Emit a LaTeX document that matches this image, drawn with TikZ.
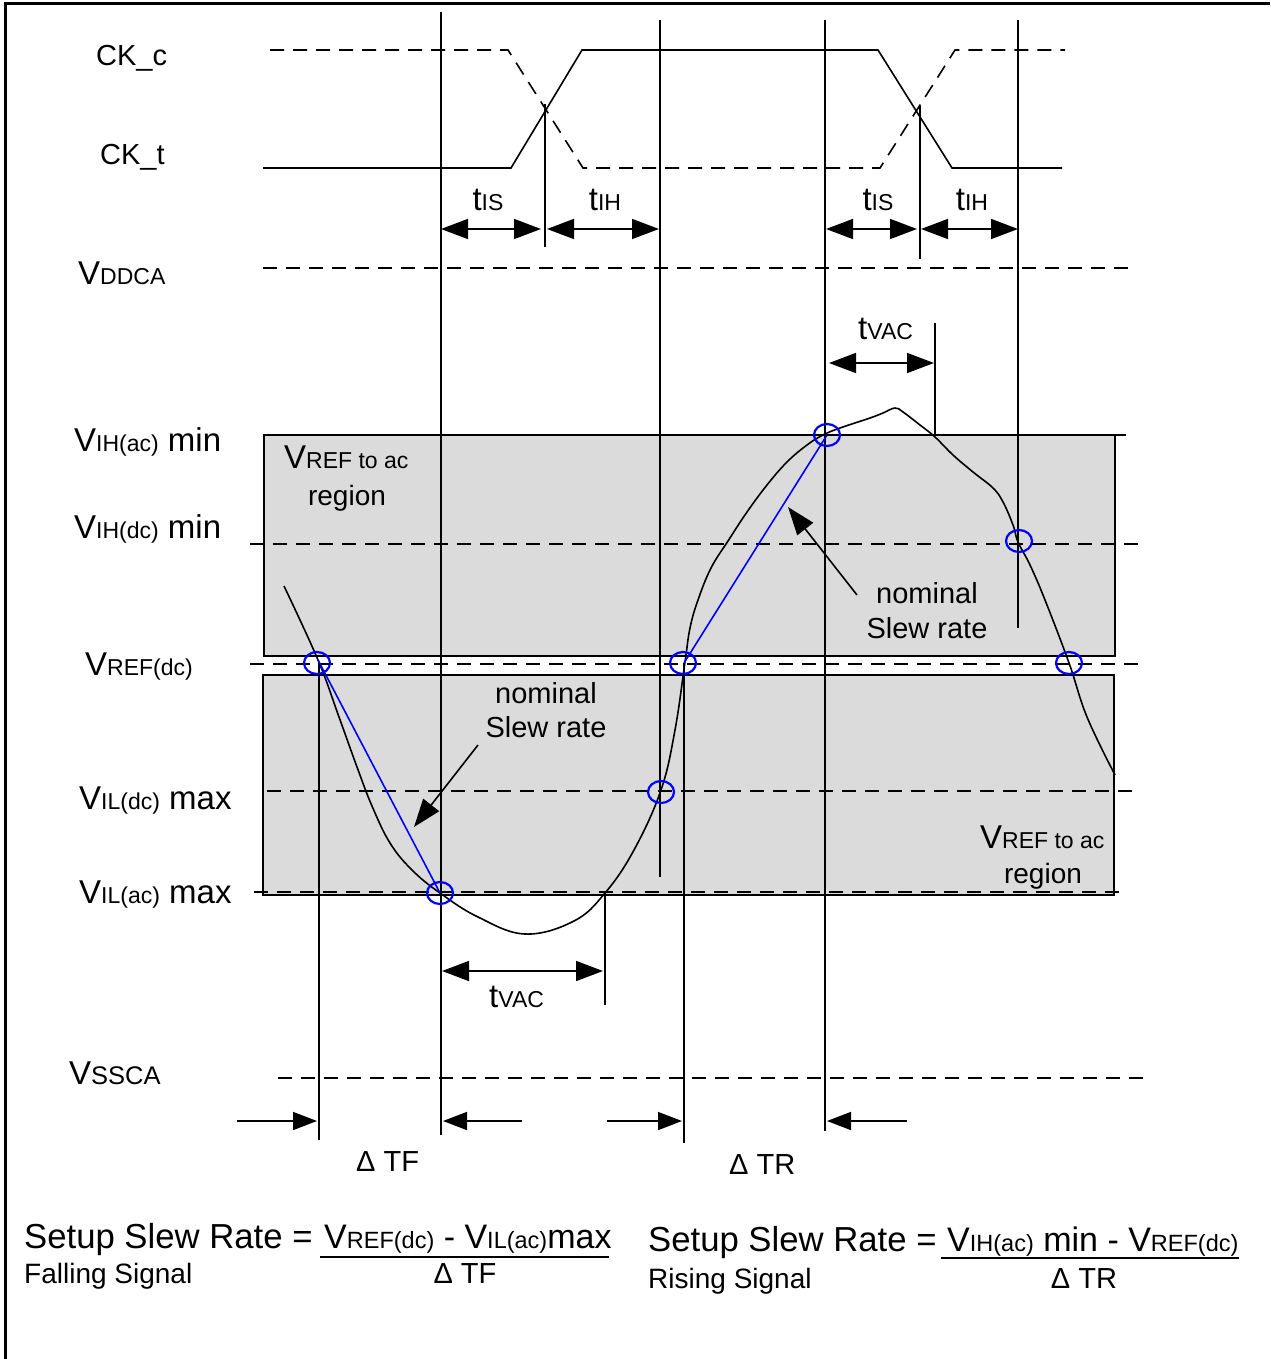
\documentclass[tikz,border=0pt]{standalone}
\usepackage{fontspec}
\setmainfont{Liberation Sans}
\usetikzlibrary{arrows.meta}
\newcommand\sbt[1]{{\fontsize{23}{24}\selectfont #1}}
\newcommand\sbf[1]{{\fontsize{23.5}{24}\selectfont #1}}
\newcommand\bigf{\fontsize{33}{36}\selectfont}
\newcommand\frmf{\fontsize{34}{36}\selectfont}
\newcommand\setf{\fontsize{34.7}{36}\selectfont}
\newcommand\midf{\fontsize{29}{32}\selectfont}
\newcommand\regf{\fontsize{28}{30}\selectfont}
\begin{document}
\begin{tikzpicture}[x=1pt,y=-1pt,
  solidln/.style={line width=1.6pt},
  dsh/.style={line width=1.6pt, dash pattern=on 14pt off 9pt},
  regionbox/.style={fill=black!14, draw=black, line width=1.6pt},
  dimarr/.style={line width=1.6pt, {Triangle[length=27pt,width=20pt]}-{Triangle[length=27pt,width=20pt]}},
  onearr/.style={line width=1.6pt, -{Triangle[length=24pt,width=18pt]}},
  noarr/.style={line width=1.6pt, -{Triangle[length=28pt,width=20pt]}},
  bluel/.style={blue, line width=1.6pt},
  bluec/.style={blue, line width=2.2pt},
  txt/.style={inner sep=0pt, anchor=base west},
  ctxt/.style={inner sep=0pt, anchor=base}
]
\useasboundingbox (0,0) rectangle (1270,1359);
% frame
\draw[line width=3pt] (5,1359) -- (5,4) -- (1270,4);

% region boxes
\draw[regionbox] (264,435) rectangle (1115,656);
\draw[regionbox] (263,675) rectangle (1114,895);

% level lines
\draw[dsh] (263,268) -- (1132,268);
\draw[dsh] (264,435) -- (1126,435);
\draw[dsh] (250,544) -- (1140,544);
\draw[dsh] (250,664) -- (1140,664);
\draw[dsh] (267,791) -- (1141,791);
\draw[dsh] (254,892) -- (1126,892);
\draw[dsh] (278,1078) -- (1146,1078);

% clock waveforms
\draw[dsh] (270,50) -- (508,50) -- (583,168) -- (880,168) -- (955,50) -- (1065,50);
\draw[solidln] (263,168) -- (511,168) -- (582,50) -- (878,50) -- (952,168) -- (1062,168);

% vertical lines
\coordinate (v1t) at (441,12);   \coordinate (v1b) at (441,1135);
\coordinate (v2t) at (660,20);   \coordinate (v2b) at (660,877);
\coordinate (v3t) at (825,20);   \coordinate (v3b) at (825,1131);
\coordinate (v4t) at (1018,20);  \coordinate (v4b) at (1018,628);
\coordinate (v5t) at (319,663);  \coordinate (v5b) at (319,1140);
\coordinate (v6t) at (684,663);  \coordinate (v6b) at (684,1143);
\coordinate (c1t) at (545,104);  \coordinate (c1b) at (545,247);
\coordinate (c2t) at (920,106);  \coordinate (c2b) at (920,259);
\coordinate (t1t) at (605,893);  \coordinate (t1b) at (605,1005);
\coordinate (t2t) at (935,323);  \coordinate (t2b) at (935,435);
\foreach \a in {v1,v2,v3,v4,v5,v6,c1,c2,t1,t2}
  \draw[solidln] (\a t) -- (\a b);

% signal curve
\draw[line width=1.6pt] plot[smooth, tension=0.65] coordinates {
 (284,586) (318,660) (339,717) (357,767) (372,806) (390,843) (412,870)
 (440,893) (478,917) (525,934) (574,921) (605,893) (634,850) (661,790)
 (675,730) (685,662) (690,628) (698,600) (711,568) (728,541) (747,512)
 (767,485) (787,462) (807,445) (823,435) (840,428) (870,418) (883,413)
 (895,408) (903,412) (920,425) (935,437) (953,455) (973,472) (993,488)
 (1003,502) (1013,525) (1018,542) (1030,565) (1045,600) (1069,663)
 (1087,717) (1115,775)};

% nominal slew lines
\draw[bluel] (318,660) -- (440,893);
\draw[bluel] (684,663) -- (827,435);

% circles
\foreach \p/\n in {{(317,663)}/ca,{(440,893)}/cb,{(661,792)}/cc,{(683,663)}/cd,{(827,435)}/ce,{(1019,541)}/cf,{(1069,663)}/cg}
  \draw[bluec] \p coordinate (\n) ellipse [x radius=13pt, y radius=11pt];

% timing arrows
\coordinate (a1) at (441,229); \coordinate (a2) at (541,229);
\coordinate (a3) at (547,229); \coordinate (a4) at (659,229);
\coordinate (a5) at (826,229); \coordinate (a6) at (917,229);
\coordinate (a7) at (921,229); \coordinate (a8) at (1018,229);
\coordinate (a9) at (829,363); \coordinate (a10) at (934,363);
\coordinate (a11) at (442,971); \coordinate (a12) at (603,971);
\draw[dimarr] (a1) -- (a2);
\draw[dimarr] (a3) -- (a4);
\draw[dimarr] (a5) -- (a6);
\draw[dimarr] (a7) -- (a8);
\draw[dimarr] (a9) -- (a10);
\draw[dimarr] (a11) -- (a12);

% delta arrows
\coordinate (d1) at (237,1121); \coordinate (d2) at (317,1121);
\coordinate (d3) at (522,1121); \coordinate (d4) at (443,1121);
\coordinate (d5) at (607,1121); \coordinate (d6) at (682,1121);
\coordinate (d7) at (907,1121); \coordinate (d8) at (827,1121);
\draw[onearr] (d1) -- (d2);
\draw[onearr] (d3) -- (d4);
\draw[onearr] (d5) -- (d6);
\draw[onearr] (d7) -- (d8);

% nominal arrows
\coordinate (n1) at (857,595); \coordinate (n2) at (788,507);
\coordinate (n3) at (478,745); \coordinate (n4) at (414,827);
\draw[noarr] (n1) -- (n2);
\draw[noarr] (n3) -- (n4);

% labels
\node[txt] (ckc) at (96,66) {\midf CK\_c};
\node[txt] (ckt) at (100,165) {\midf CK\_t};
\node[txt] (vdd) at (78,284) {\bigf V\sbt{DDCA}};
\node[txt] (vihac) at (74,451) {\bigf V\sbt{IH(ac)} min};
\node[txt] (vihdc) at (74,538) {\bigf V\sbt{IH(dc)} min};
\node[txt] (vref) at (85,675) {\bigf V\sbt{REF(dc)}};
\node[txt] (vildc) at (79,809) {\bigf V\sbt{IL(dc)} max};
\node[txt] (vilac) at (79,903) {\bigf V\sbt{IL(ac)} max};
\node[txt] (vss) at (69,1084) {\bigf V{\fontsize{25.5}{26}\selectfont SSCA}};

\node[txt] (rg1a) at (284,468) {\bigf V\sbt{REF to ac}};
\node[ctxt] (rg1b) at (347,505) {\regf region};
\node[txt] (rg2a) at (980,848) {\bigf V\sbt{REF to ac}};
\node[ctxt] (rg2b) at (1043,883) {\regf region};

\node[ctxt] (nom1a) at (546,703) {\midf nominal};
\node[ctxt] (nom1b) at (546,737) {\midf Slew rate};
\node[ctxt] (nom2a) at (927,603) {\midf nominal};
\node[ctxt] (nom2b) at (927,638) {\midf Slew rate};

\node[ctxt] (tis1) at (488,211) {\bigf t\sbt{IS}};
\node[ctxt] (tih1) at (605,211) {\bigf t\sbt{IH}};
\node[ctxt] (tis2) at (878,211) {\bigf t\sbt{IS}};
\node[ctxt] (tih2) at (972,211) {\bigf t\sbt{IH}};
\node[txt] (tvac1) at (858,339) {\bigf t\sbt{VAC}};
\node[txt] (tvac2) at (489,1007) {\bigf t\sbt{VAC}};

\node[txt] (dtf) at (356,1171) {\midf Δ TF};
\node[txt] (dtr) at (729,1174) {\midf Δ TR};

% formulas
\node[txt] (f1a) at (24,1248) {\setf Setup Slew Rate =};
\node[txt] (f1n) at (324,1248) {\frmf V\sbf{REF(dc)} - V\sbf{IL(ac)}max};
\draw[line width=2pt] (320,1257) -- (609,1257);
\node[ctxt] (f1d) at (465,1283) {\midf Δ TF};
\node[txt] (f1s) at (24,1283) {\regf Falling Signal};

\node[txt] (f2a) at (648,1251) {\setf Setup Slew Rate =};
\node[txt] (f2n) at (947,1251) {\frmf V\sbf{IH(ac)} min - V\sbf{REF(dc)}};
\draw[line width=2pt] (941,1258) -- (1239,1258);
\node[ctxt] (f2d) at (1084,1288) {\midf Δ TR};
\node[txt] (f2s) at (648,1288) {\regf Rising Signal};
\end{tikzpicture}
\end{document}
